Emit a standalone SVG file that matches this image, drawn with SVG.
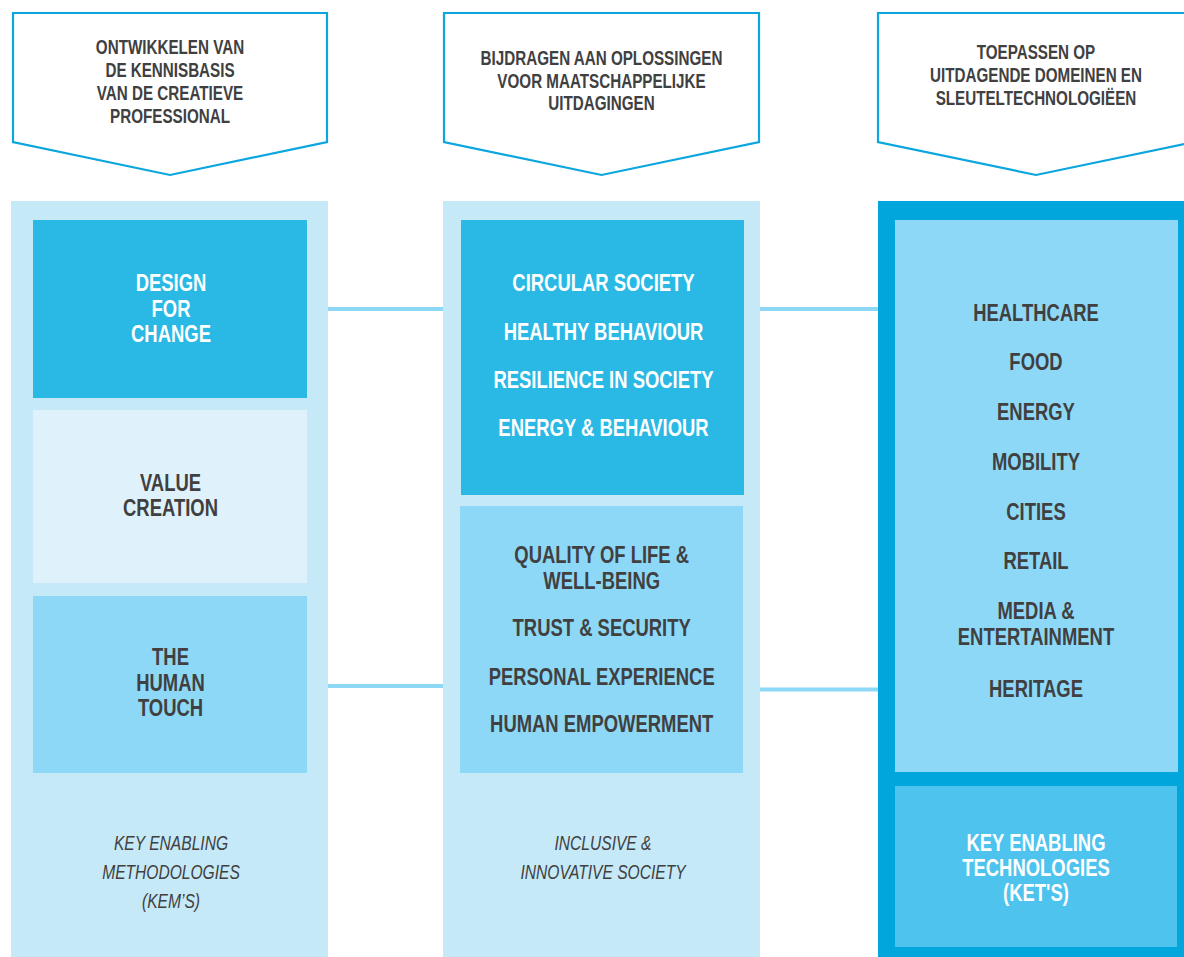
<svg xmlns="http://www.w3.org/2000/svg" width="1184" height="957" viewBox="0 0 1184 957">
<style>
.hdr{fill:#ffffff;stroke:#0aa6dd;stroke-width:2.2}
.ht{font-family:"Liberation Sans",Arial,sans-serif;font-weight:bold;font-size:19.5px;fill:#404041;text-anchor:middle}
.bt{font-family:"Liberation Sans",Arial,sans-serif;font-weight:bold;font-size:23.5px;text-anchor:middle}
.it{font-family:"Liberation Sans",Arial,sans-serif;font-style:italic;font-size:19.5px;fill:#404041;text-anchor:middle}
.w{fill:#ffffff}
.d{fill:#404041}
.col{fill:#c6e9f8}
.c1{fill:#29b9e4}
.c2{fill:#dff2fc}
.c3{fill:#8ed8f7}
.conn{stroke:#8ed8f7;stroke-width:4;fill:none}
</style>
<rect width="1184" height="957" fill="#ffffff"/>

<g id="header-left">
<polygon class="hdr" points="13,13 327,13 327,142 170,175 13,142"/>
<g transform="scale(0.78 1)">
<text class="ht" x="217.95" y="54">ONTWIKKELEN VAN</text>
<text class="ht" x="217.95" y="77">DE KENNISBASIS</text>
<text class="ht" x="217.95" y="100">VAN DE CREATIEVE</text>
<text class="ht" x="217.95" y="123">PROFESSIONAL</text>
</g>
</g>
<g id="header-middle">
<polygon class="hdr" points="444,13 759,13 759,142 601.5,175 444,142"/>
<g transform="scale(0.78 1)">
<text class="ht" x="771.15" y="65.5">BIJDRAGEN AAN OPLOSSINGEN</text>
<text class="ht" x="771.15" y="88">VOOR MAATSCHAPPELIJKE</text>
<text class="ht" x="771.15" y="110.5">UITDAGINGEN</text>
</g>
</g>
<g id="header-right">
<polygon class="hdr" points="878,13 1194,13 1194,142 1036,175 878,142"/>
<g transform="scale(0.78 1)">
<text class="ht" x="1328.21" y="59.5">TOEPASSEN OP</text>
<text class="ht" x="1328.21" y="82.5">UITDAGENDE DOMEINEN EN</text>
<text class="ht" x="1328.21" y="105">SLEUTELTECHNOLOGIËEN</text>
</g>
</g>

<g id="column-left">
<rect class="col" x="11" y="201" width="317" height="756"/>
<g transform="scale(0.8 1)">
<text class="it" x="213.75" y="850">KEY ENABLING</text>
<text class="it" x="213.75" y="879">METHODOLOGIES</text>
<text class="it" x="213.75" y="908.5">(KEM’S)</text>
</g>
</g>
<g id="design-for-change">
<rect class="c1" x="33" y="220" width="274" height="178"/>
<g transform="scale(0.785 1)">
<text class="bt w" x="217.83" y="291.5">DESIGN</text>
<text class="bt w" x="217.83" y="317">FOR</text>
<text class="bt w" x="217.83" y="342">CHANGE</text>
</g>
</g>
<g id="value-creation">
<rect class="c2" x="33" y="410" width="274" height="173"/>
<g transform="scale(0.785 1)">
<text class="bt d" x="217.2" y="490.7">VALUE</text>
<text class="bt d" x="217.2" y="515.7">CREATION</text>
</g>
</g>
<g id="human-touch">
<rect class="c3" x="33" y="596" width="274" height="177"/>
<g transform="scale(0.785 1)">
<text class="bt d" x="217.2" y="665.5">THE</text>
<text class="bt d" x="217.2" y="690.7">HUMAN</text>
<text class="bt d" x="217.2" y="716.3">TOUCH</text>
</g>
</g>

<g id="column-middle">
<rect class="col" x="443" y="201" width="317" height="756"/>
<g transform="scale(0.8 1)">
<text class="it" x="753.75" y="850">INCLUSIVE &amp;</text>
<text class="it" x="753.75" y="879">INNOVATIVE SOCIETY</text>
</g>
</g>
<g id="societal-challenges">
<rect class="c1" x="461" y="220" width="283" height="275"/>
<g transform="scale(0.785 1)">
<text class="bt w" x="768.79" y="291.5">CIRCULAR SOCIETY</text>
<text class="bt w" x="768.79" y="339.7">HEALTHY BEHAVIOUR</text>
<text class="bt w" x="768.79" y="387.7">RESILIENCE IN SOCIETY</text>
<text class="bt w" x="768.79" y="436.3">ENERGY &amp; BEHAVIOUR</text>
</g>
</g>
<g id="inclusive-themes">
<rect class="c3" x="460" y="506" width="283" height="267"/>
<g transform="scale(0.785 1)">
<text class="bt d" x="766.5" y="563">QUALITY OF LIFE &amp;</text>
<text class="bt d" x="766.5" y="588.7">WELL-BEING</text>
<text class="bt d" x="766.5" y="636.3">TRUST &amp; SECURITY</text>
<text class="bt d" x="766.5" y="684.7">PERSONAL EXPERIENCE</text>
<text class="bt d" x="766.5" y="732">HUMAN EMPOWERMENT</text>
</g>
</g>

<g id="column-right">
<rect x="878" y="201" width="306" height="756" fill="#00a6dc"/>
</g>
<g id="domains">
<rect class="c3" x="895" y="220" width="283" height="552"/>
<g transform="scale(0.785 1)">
<text class="bt d" x="1319.75" y="320.7">HEALTHCARE</text>
<text class="bt d" x="1319.75" y="370.4">FOOD</text>
<text class="bt d" x="1319.75" y="419.7">ENERGY</text>
<text class="bt d" x="1319.75" y="469.7">MOBILITY</text>
<text class="bt d" x="1319.75" y="519.7">CITIES</text>
<text class="bt d" x="1319.75" y="569">RETAIL</text>
<text class="bt d" x="1319.75" y="619">MEDIA &amp;</text>
<text class="bt d" x="1319.75" y="644.7">ENTERTAINMENT</text>
<text class="bt d" x="1319.75" y="697">HERITAGE</text>
</g>
</g>
<g id="kets">
<rect x="895" y="786" width="282" height="161" fill="#4dc3ee"/>
<g transform="scale(0.785 1)">
<text class="bt w" x="1319.75" y="851.4">KEY ENABLING</text>
<text class="bt w" x="1319.75" y="876.4">TECHNOLOGIES</text>
<text class="bt w" x="1319.75" y="900.7">(KET'S)</text>
</g>
</g>

<g id="connectors">
<line class="conn" x1="328" y1="309" x2="443" y2="309"/>
<line class="conn" x1="760" y1="309" x2="878" y2="309"/>
<line class="conn" x1="328" y1="686" x2="443" y2="686"/>
<line class="conn" x1="760" y1="689.5" x2="878" y2="689.5"/>
</g>
</svg>
